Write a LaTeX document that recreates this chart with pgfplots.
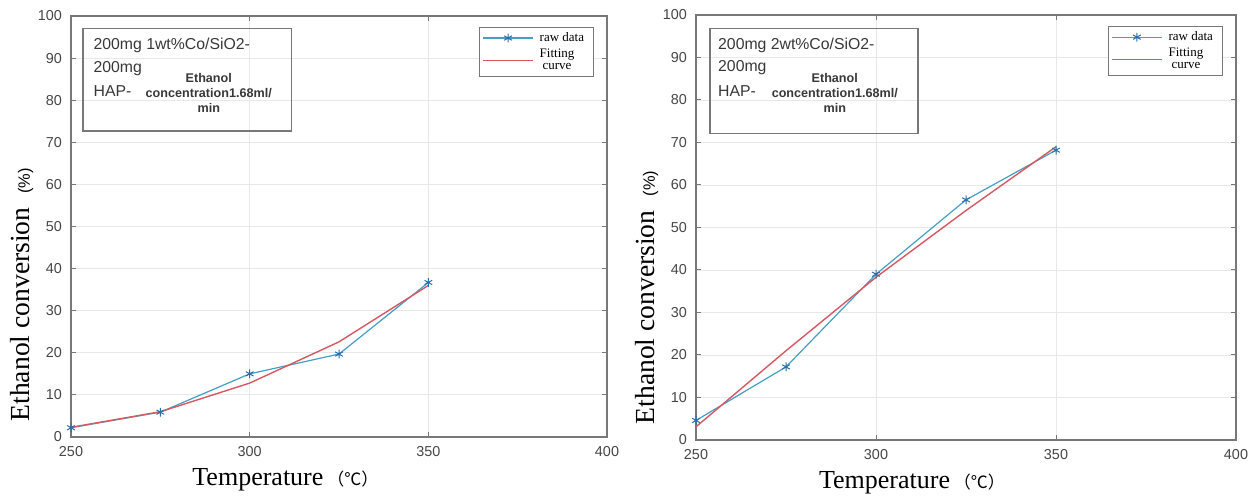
\documentclass[border=0pt]{standalone}
\usepackage{pgfplots}
\pgfplotsset{compat=1.18}
\usepackage{fontspec}
\setmainfont{Liberation Sans}
\newfontfamily\tnr{Liberation Serif}
\newfontfamily\cjk{Noto Sans CJK SC}

\definecolor{rawc}{RGB}{70,158,196}
\definecolor{rawm}{RGB}{40,110,170}
\definecolor{fitc}{RGB}{214,88,98}
\definecolor{axc}{RGB}{120,120,120}
\definecolor{tickc}{RGB}{70,70,70}

\pgfplotsset{
  convstyle/.style={
    scale only axis,
    anchor=south west,
    xmin=250, xmax=400, ymin=0, ymax=100,
    xtick={250,300,350,400}, ytick={0,10,...,100},
    tick align=inside, major tick length=2.5pt,
    axis line style={axc, line width=0.6pt},
    tick style={axc, line width=0.5pt},
    grid=major, major grid style={gray!18, line width=0.4pt},
    ticklabel style={tickc, font=\fontsize{7.2}{8}\selectfont},
    /pgf/number format/assume math mode=true,
    xticklabel style={yshift=-1pt},
    yticklabel style={xshift=-1pt},
    xlabel={{\tnr\fontsize{13}{14}\selectfont Temperature}\hspace{2pt}{\cjk\fontsize{8.5}{9}\selectfont （℃）}},
    xlabel style={at={(rel axis cs:0.40,0)}, anchor=center, yshift=-21.5pt},
    ylabel={{\tnr\fontsize{13.8}{15}\selectfont Ethanol conversion}\hspace{7pt}{\fontsize{8.2}{9}\selectfont (\%)}},
    ylabel style={anchor=center},
    legend style={at={(rel axis cs:0.975,0.974)}, anchor=north east,
      draw=axc, line width=0.5pt, font=\tnr\fontsize{6.5}{6}\selectfont,
      nodes={align=center, inner xsep=3pt, inner ysep=0.8pt}, inner sep=1.5pt, row sep=0.6pt,
      legend cell align=left},
    legend image code/.code={\draw[mark repeat=2, mark phase=2, #1] plot coordinates {(0pt,0pt) (12.5pt,0pt) (25pt,0pt)};},
    rawstyle/.style={rawc, line width=0.6pt, mark=asterisk, mark size=2.2pt, mark options={rawm, line width=0.5pt}},
    fitstyle/.style={fitc, line width=0.7pt},
  }
}

\begin{document}
\begin{tikzpicture}
\path[use as bounding box] (0,0) rectangle (630pt,249pt);

% left panel: 1wt% Co
\begin{axis}[convstyle, at={(35.5pt,30.5pt)}, width=268pt, height=210.5pt,
  ylabel style={at={(axis description cs:-0.0914,0.338)}}]
\addplot[rawstyle] coordinates {(250,2.2) (275,5.9) (300,15.0) (325,19.7) (350,36.7)};
\addplot[fitstyle] coordinates {(250,2.3) (275,6.0) (300,12.8) (325,22.6) (350,36.0)};
\legend{raw data, Fitting\\curve}
\draw[axc, line width=0.6pt] (rel axis cs:0.0223,0.971) rectangle (rel axis cs:0.411,0.727);
\node[anchor=west, font=\fontsize{7.9}{9}\selectfont, text=tickc!80!black] at (rel axis cs:0.029,0.930) {200mg 1wt\%Co/SiO2-};
\node[anchor=west, font=\fontsize{7.9}{9}\selectfont, text=tickc!80!black] at (rel axis cs:0.029,0.876) {200mg};
\node[anchor=west, font=\fontsize{7.9}{9}\selectfont, text=tickc!80!black] at (rel axis cs:0.029,0.822) {HAP-};
\node[align=center, font=\bfseries\fontsize{6.3}{7.5}\selectfont, text=tickc!80!black] at (rel axis cs:0.257,0.817) {Ethanol\\concentration1.68ml/\\min};
\end{axis}

% right panel: 2wt% Co
\begin{axis}[convstyle, at={(348pt,29pt)}, width=270pt, height=212.5pt,
  ylabel style={at={(axis description cs:-0.0907,0.335)}}]
\addplot[rawstyle] coordinates {(250,4.6) (275,17.2) (300,39.0) (325,56.5) (350,68.2)};
\addplot[fitstyle] coordinates {(250,3.1) (275,21.0) (300,38.3) (325,54.0) (350,69.0)};
\legend{raw data, Fitting\\curve}
\draw[axc, line width=0.6pt] (rel axis cs:0.026,0.969) rectangle (rel axis cs:0.411,0.722);
\node[anchor=west, font=\fontsize{7.9}{9}\selectfont, text=tickc!80!black] at (rel axis cs:0.028,0.929) {200mg 2wt\%Co/SiO2-};
\node[anchor=west, font=\fontsize{7.9}{9}\selectfont, text=tickc!80!black] at (rel axis cs:0.028,0.875) {200mg};
\node[anchor=west, font=\fontsize{7.9}{9}\selectfont, text=tickc!80!black] at (rel axis cs:0.028,0.821) {HAP-};
\node[align=center, font=\bfseries\fontsize{6.3}{7.5}\selectfont, text=tickc!80!black] at (rel axis cs:0.257,0.816) {Ethanol\\concentration1.68ml/\\min};
\end{axis}
\end{tikzpicture}
\end{document}
